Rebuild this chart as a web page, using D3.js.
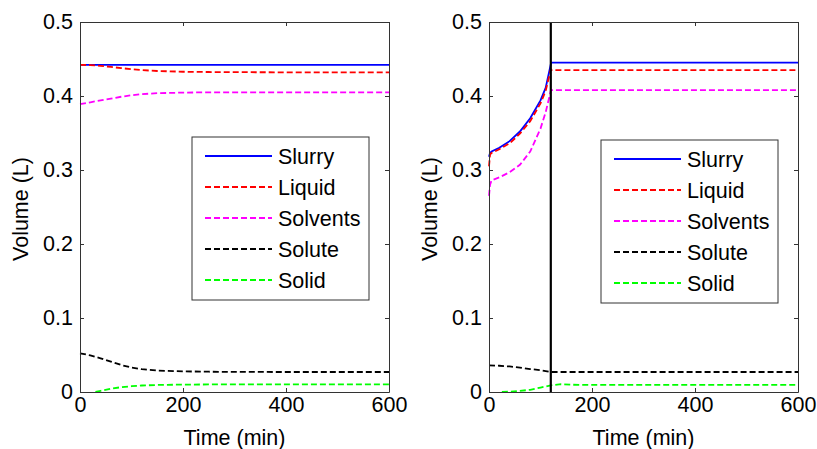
<!DOCTYPE html>
<html><head><meta charset="utf-8">
<script src="https://cdn.jsdelivr.net/npm/d3@7/dist/d3.min.js"></script>
<style>body{margin:0;background:#fff}svg{display:block}text{font-family:"Liberation Sans",Arial,sans-serif;fill:#000}</style>
</head><body><svg id="c" width="817" height="449"></svg>
<script>
// ---- Data (left panel) ----
const timeLeft      = [0, 20, 40, 60, 80, 100, 120, 150, 200, 250, 300, 400, 500, 600];
const slurryLeft    = [0.442,0.442,0.442,0.442,0.442,0.442,0.442,0.442,0.442,0.442,0.442,0.442,0.442,0.442];
const liquidLeft    = [0.442,0.4418,0.4408,0.4393,0.4377,0.4362,0.4350,0.4338,0.4328,0.4324,0.4322,0.4320,0.4320,0.4320];
const solventsLeft  = [0.389,0.3915,0.394,0.3965,0.399,0.401,0.4025,0.4038,0.4046,0.405,0.405,0.405,0.405,0.405];
const soluteLeft    = [0.0523,0.0495,0.0455,0.041,0.0365,0.033,0.0308,0.029,0.0279,0.0274,0.0272,0.027,0.027,0.027];
const solidTimeLeft = [30, 40, 60, 80, 100, 120, 150, 200, 250, 300, 400, 500, 600];
const solidLeft     = [0,0.0015,0.0045,0.0065,0.0078,0.0088,0.0095,0.0100,0.0102,0.0103,0.0103,0.0103,0.0103];

// ---- Data (right panel) ----
const timeRight     = [0, 2, 5, 20, 40, 60, 80, 100, 110, 120, 121, 200, 400, 600];
const slurryRight   = [0.318,0.323,0.325,0.330,0.339,0.352,0.370,0.394,0.411,0.443,0.445,0.445,0.445,0.445];
const liquidRight   = [0.305,0.321,0.323,0.328,0.336,0.349,0.366,0.390,0.407,0.436,0.435,0.435,0.435,0.435];
const solventsRight = [0.265,0.280,0.286,0.290,0.297,0.307,0.325,0.356,0.378,0.407,0.408,0.408,0.408,0.408];
const soluteTimeRight = [0, 20, 40, 60, 80, 100, 120, 200, 400, 600];
const soluteRight   = [0.036,0.0355,0.0345,0.033,0.031,0.0295,0.027,0.027,0.027,0.027];
const solidTimeRight = [25, 40, 60, 80, 100, 120, 140, 160, 200, 400, 600];
const solidRight    = [0,0.0005,0.0015,0.003,0.006,0.009,0.0105,0.0098,0.0095,0.0095,0.0095];
const switchTime = 120;

// ---- Axis ticks & labels ----
const xTicks = [0, 200, 400, 600];
const yTicks = [0, 0.1, 0.2, 0.3, 0.4, 0.5];
const xLabel = "Time (min)";
const yLabel = "Volume (L)";
const seriesNames = ["Slurry", "Liquid", "Solvents", "Solute", "Solid"];
const seriesColors = ["#0000ff", "#ff0000", "#ff00ff", "#000000", "#00ff00"];
const seriesDash = [null, "6,3", "6,3", "6,3", "6,3"];

const FS = 21.5;
const svg = d3.select("#c");

function panel(left, legendTop, series, vline) {
  const x = d3.scaleLinear().domain([0, 600]).range([left, left + 309]);
  const y = d3.scaleLinear().domain([0, 0.5]).range([392, 22]);
  const g = svg.append("g");

  // lines
  const line = d3.line().x(d => x(d[0])).y(d => y(d[1]));
  series.forEach((s, i) => {
    const pts = s.t.map((t, k) => [t, s.v[k]]);
    g.append("path").attr("d", line(pts)).attr("fill", "none")
      .attr("stroke", seriesColors[i]).attr("stroke-width", 1.8)
      .attr("stroke-dasharray", seriesDash[i]);
  });
  if (vline !== undefined) {
    g.append("line").attr("x1", x(vline)).attr("x2", x(vline))
      .attr("y1", y(0.5)).attr("y2", y(0)).attr("stroke", "#000").attr("stroke-width", 2.2);
  }

  // axes (MATLAB style, ticks inward on all sides)
  const axB = d3.axisBottom(x).tickValues(xTicks).tickSizeInner(-4).tickSizeOuter(0).tickPadding(5).tickFormat(d3.format("d"));
  const axT = d3.axisTop(x).tickValues(xTicks).tickSizeInner(-4).tickSizeOuter(0).tickFormat("");
  const axL = d3.axisLeft(y).tickValues(yTicks).tickSizeInner(-4).tickSizeOuter(0).tickPadding(7).tickFormat(d => d === 0 ? "0" : d3.format(".1f")(d));
  const axR = d3.axisRight(y).tickValues(yTicks).tickSizeInner(-4).tickSizeOuter(0).tickFormat("");
  const styleAx = sel => {
    sel.selectAll("path").attr("stroke", "#333").attr("stroke-width", 1);
    sel.selectAll("line").attr("stroke", "#333");
    sel.selectAll("text").attr("font-size", FS).attr("font-family", "Liberation Sans, Arial, sans-serif").attr("fill", "#000");
  };
  g.append("g").attr("transform", `translate(0,${y(0)})`).call(axB).call(styleAx);
  g.append("g").attr("transform", `translate(0,${y(0.5)})`).call(axT).call(styleAx);
  g.append("g").attr("transform", `translate(${x(0)},0)`).call(axL).call(styleAx);
  g.append("g").attr("transform", `translate(${x(600)},0)`).call(axR).call(styleAx);

  // axis titles
  g.append("text").attr("x", (x(0) + x(600)) / 2).attr("y", 445).attr("text-anchor", "middle")
    .attr("font-size", FS).text(xLabel);
  g.append("text").attr("transform", `translate(${left - 52},${209}) rotate(-90)`).attr("text-anchor", "middle")
    .attr("font-size", FS).text(yLabel);

  // legend
  const lx = left + 112, lw = 177, lh = 163;
  g.append("rect").attr("x", lx).attr("y", legendTop).attr("width", lw).attr("height", lh)
    .attr("fill", "#fff").attr("stroke", "#333").attr("stroke-width", 1);
  seriesNames.forEach((n, i) => {
    const yy = legendTop + 19 + i * 31;
    g.append("line").attr("x1", lx + 13).attr("x2", lx + 80).attr("y1", yy).attr("y2", yy)
      .attr("stroke", seriesColors[i]).attr("stroke-width", 1.8).attr("stroke-dasharray", seriesDash[i]);
    g.append("text").attr("x", lx + 86).attr("y", yy + 8).attr("font-size", FS).text(n);
  });
}

panel(80, 137, [
  {t: timeLeft, v: slurryLeft},
  {t: timeLeft, v: liquidLeft},
  {t: timeLeft, v: solventsLeft},
  {t: timeLeft, v: soluteLeft},
  {t: solidTimeLeft, v: solidLeft}
]);
panel(489, 140, [
  {t: timeRight, v: slurryRight},
  {t: timeRight, v: liquidRight},
  {t: timeRight, v: solventsRight},
  {t: soluteTimeRight, v: soluteRight},
  {t: solidTimeRight, v: solidRight}
], switchTime);
</script></body></html>
